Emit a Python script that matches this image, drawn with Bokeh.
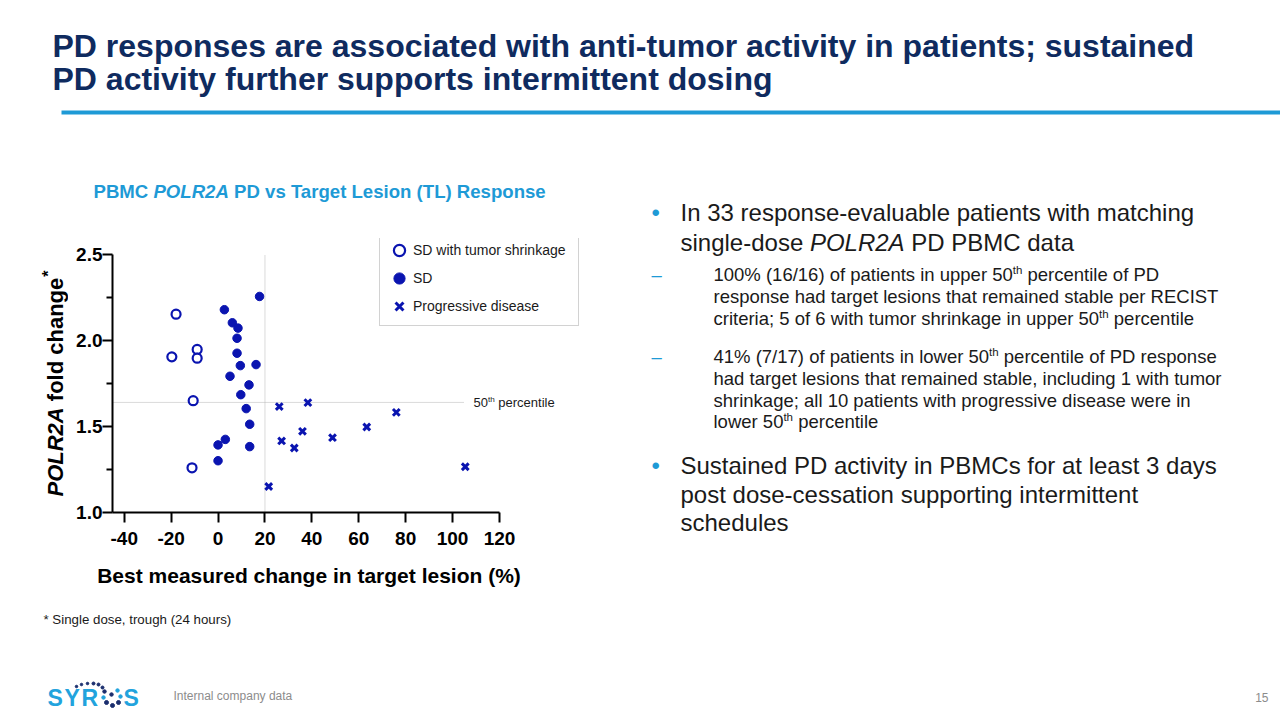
import math
from bokeh.plotting import figure
from bokeh.layouts import row, column
from bokeh.models import (Range1d, FixedTicker, PrintfTickFormatter, Label, Legend,
                          LegendItem, BoxAnnotation)
from bokeh.embed import file_html
from bokeh.resources import INLINE

# ---------------- data ----------------
shrink_x = [-17.9, -19.7, -8.9, -8.9, -10.6, -11.1]
shrink_y = [2.153, 1.905, 1.948, 1.897, 1.650, 1.260]
sd_x = [2.7, 17.7, 6.1, 8.5, 8.1, 8.1, 9.5, 16.2, 5.1, 13.2, 9.7, 12.0, 13.5, 3.1, 0.0, 13.5, 0.0]
sd_y = [2.179, 2.256, 2.103, 2.072, 2.013, 1.926, 1.854, 1.860, 1.792, 1.742, 1.685,
        1.604, 1.513, 1.425, 1.393, 1.383, 1.301]
pd_x = [21.6, 26.1, 27.1, 32.5, 36.0, 38.3, 48.8, 63.4, 76.0, 105.4]
pd_y = [1.151, 1.616, 1.416, 1.375, 1.472, 1.639, 1.435, 1.497, 1.582, 1.266]
legend_labels = ["SD with tumor shrinkage", "SD", "Progressive disease"]
x_ticks = [-40, -20, 0, 20, 40, 60, 80, 100, 120]
y_ticks = [1.0, 1.5, 2.0, 2.5]
y_minor_ticks = [1.25, 1.75, 2.25]
x_bounds = [-45, 120]
y_bounds = [1.0, 2.5]
percentile_50 = 1.64
percentile_line_x = [-45, 105]
ref_vline_x = 20

# ---------------- styles ----------------
BLUE = "#0A14B0"
TEAL = "#1E9AD6"
NAVY = "#0F2B5F"
TXT = "#1a1a1a"
GRAY = "#8c8c8c"
FONT = "Liberation Sans"

# Arial / Liberation Sans advance widths (per 1000 em)
REG = {' ': 278, '!': 278, '%': 889, '(': 333, ')': 333, '*': 389, ',': 278, '-': 333,
       '.': 278, '/': 278, ':': 278, ';': 278, '?': 556, '–': 556, '•': 350,
       'A': 667, 'B': 667, 'C': 722, 'D': 722, 'E': 667, 'F': 611, 'G': 778, 'H': 722,
       'I': 278, 'J': 500, 'K': 667, 'L': 556, 'M': 833, 'N': 722, 'O': 778, 'P': 667,
       'Q': 778, 'R': 722, 'S': 667, 'T': 611, 'U': 722, 'V': 667, 'W': 944, 'X': 667,
       'Y': 667, 'Z': 611, 'a': 556, 'b': 556, 'c': 500, 'd': 556, 'e': 556, 'f': 278,
       'g': 556, 'h': 556, 'i': 222, 'j': 222, 'k': 500, 'l': 222, 'm': 833, 'n': 556,
       'o': 556, 'p': 556, 'q': 556, 'r': 333, 's': 500, 't': 278, 'u': 556, 'v': 500,
       'w': 722, 'x': 500, 'y': 500, 'z': 500}
BOLD = dict(REG)
BOLD.update({'!': 333, ':': 333, ';': 333, 'A': 722, 'B': 722, 'J': 556, 'K': 722,
             'L': 611, 'b': 611, 'c': 556, 'd': 611, 'f': 333, 'g': 611, 'h': 611,
             'i': 278, 'j': 278, 'k': 556, 'l': 278, 'm': 889, 'n': 611, 'o': 611,
             'p': 611, 'q': 611, 'r': 389, 's': 556, 't': 333, 'u': 611, 'v': 556,
             'w': 778, 'x': 556, 'y': 556})


def tw(s, size, style="normal"):
    t = BOLD if "bold" in style else REG
    return sum(t.get(c, 556) for c in s) * size / 1000.0


def text_fig(x0, y0, x1, y1):
    """A figure whose frame is its whole canvas, in page-pixel coordinates."""
    f = figure(width=x1 - x0, height=y1 - y0, x_range=Range1d(x0, x1),
               y_range=Range1d(y1, y0), output_backend="svg", toolbar_location=None,
               x_axis_location=None, y_axis_location=None,
               min_border_left=0, min_border_right=0, min_border_top=0, min_border_bottom=0)
    f.grid.visible = False
    f.outline_line_color = None
    f.background_fill_color = "white"
    f.border_fill_color = "white"
    return f


def lab(f, text, X, Y, size, style="normal", color=TXT, align="left", angle=0.0):
    """Y is the vertical centre of the text line (page px)."""
    f.add_layout(Label(x=X, y=Y, text=text, text_font=FONT, text_font_size=f"{size}px",
                       text_font_style=style, text_color=color, text_align=align,
                       text_baseline="middle", angle=angle))


def runs(f, X, Y, parts, color=TXT):
    """parts: list of (text, size, style, raise_px); placed one after another."""
    x = X
    for text, size, style, rise in parts:
        lead = len(text) - len(text.lstrip(" "))
        trail = len(text) - len(text.rstrip(" "))
        core = text.strip(" ")
        x += tw(" " * lead, size, style)
        if core:
            lab(f, core, x, Y - rise, size, style, color)
        x += tw(core, size, style) + tw(" " * trail, size, style)


def sup(text, size):
    return (text, round(size * 0.62, 1), "normal", round(size * 0.25, 1))


# ---------------- layout geometry (page px) ----------------
PAGE_W, PAGE_H = 1280, 720
TOP_H = 130          # title band
MID_B = 640          # bottom of middle band
SPLIT_X = 582        # chart column | bullets column
L_W = 68             # y-label strip
C_TOP = 238          # top of chart canvas / frame
C_BOT = 560          # bottom of chart canvas
FRAME_L, FRAME_B = 112, 512
PX_X = 387 / 165.0   # px per x unit
PX_Y = 258 / 1.5     # px per y unit

# ---------------- title band ----------------
T = text_fig(0, 0, PAGE_W, TOP_H)
lab(T, "PD responses are associated with anti-tumor activity in patients; sustained",
    52, 45, 32, "bold", NAVY)
lab(T, "PD activity further supports intermittent dosing", 52, 78, 32, "bold", NAVY)
T.add_layout(BoxAnnotation(left=61, right=1280, top=110, bottom=114,
                           fill_color=TEAL, fill_alpha=1.0, line_color=None))

# ---------------- chart title band ----------------
CT = text_fig(0, TOP_H, SPLIT_X, C_TOP)
CS = 18.6
runs(CT, 93, 191, [("PBMC ", CS, "bold", 0), ("POLR2A", CS, "bold italic", 0),
                   (" PD vs Target Lesion (TL) Response", CS, "bold", 0)], color=TEAL)

# ---------------- y label strip ----------------
L = text_fig(0, C_TOP, L_W, C_BOT)
YL = 22
y0 = 496
w1 = tw("POLR2A", YL, "bold")
w2 = tw(" fold change", YL, "bold")
lab(L, "POLR2A", 55, y0, YL, "bold italic", "black", angle=math.pi / 2)
lab(L, "fold change", 55, y0 - w1 - tw(" ", YL, "bold"), YL, "bold", "black",
    angle=math.pi / 2)
lab(L, "*", 47.5, y0 - w1 - w2 - 1, 16, "bold", "black", angle=math.pi / 2)

# ---------------- chart ----------------
x_end = x_bounds[0] + (SPLIT_X - FRAME_L) / PX_X
y_end = y_bounds[1] + (FRAME_B - 258 - C_TOP) / PX_Y
C = figure(width=SPLIT_X - L_W, height=C_BOT - C_TOP,
           x_range=Range1d(x_bounds[0], x_end), y_range=Range1d(y_bounds[0], y_end),
           output_backend="svg", toolbar_location=None,
           min_border_left=FRAME_L - L_W, min_border_right=0,
           min_border_top=0, min_border_bottom=C_BOT - FRAME_B)
C.grid.visible = False
C.outline_line_color = None
C.background_fill_color = "white"
C.border_fill_color = "white"

for ax in (C.xaxis[0], C.yaxis[0]):
    ax.axis_line_width = 2
    ax.axis_line_color = "black"
    ax.major_tick_line_width = 2
    ax.major_tick_line_color = "black"
    ax.major_tick_out = 10
    ax.major_tick_in = 0
    ax.minor_tick_line_width = 2
    ax.minor_tick_line_color = "black"
    ax.minor_tick_out = 6
    ax.minor_tick_in = 0
    ax.major_label_text_font = FONT
    ax.major_label_text_font_style = "bold"
    ax.major_label_text_font_size = "19px"
    ax.major_label_text_color = "black"

C.xaxis[0].ticker = FixedTicker(ticks=x_ticks)
C.xaxis[0].formatter = PrintfTickFormatter(format="%d")
C.xaxis[0].minor_tick_line_color = None
C.xaxis[0].major_label_standoff = 9
C.xaxis[0].bounds = tuple(x_bounds)
C.yaxis[0].ticker = FixedTicker(ticks=y_ticks, minor_ticks=y_minor_ticks)
C.yaxis[0].formatter = PrintfTickFormatter(format="%.1f")
C.yaxis[0].major_label_standoff = 0
C.yaxis[0].bounds = tuple(y_bounds)

C.line(percentile_line_x, [percentile_50, percentile_50], line_color="#b4b4b4",
       line_width=1, line_dash="1 1")
C.line([ref_vline_x, ref_vline_x], y_bounds, line_color="#b4b4b4",
       line_width=1, line_dash="1 1")

r_shrink = C.scatter(shrink_x, shrink_y, marker="circle", size=9, fill_color="white",
                     line_color=BLUE, line_width=2.2)
r_sd = C.scatter(sd_x, sd_y, marker="circle", size=8.5, fill_color=BLUE, line_color=BLUE)
r_pd = C.scatter(pd_x, pd_y, marker="x", size=9.5, line_color=BLUE, line_width=3)

legend = Legend(items=[LegendItem(label=legend_labels[0], renderers=[r_shrink]),
                       LegendItem(label=legend_labels[1], renderers=[r_sd]),
                       LegendItem(label=legend_labels[2], renderers=[r_pd])],
                location=(379 - FRAME_L, FRAME_B - 326), orientation="vertical",
                border_line_color="#a6a6a6", border_line_width=1.5,
                background_fill_color="white", background_fill_alpha=1.0,
                label_text_font=FONT, label_text_font_size="14px", label_text_color=TXT,
                glyph_width=28, glyph_height=28, label_height=28, label_standoff=0,
                label_width=160, spacing=-4, padding=5, margin=0)
C.add_layout(legend)

PS = 13
xx = 473 - FRAME_L
mid_y = FRAME_B - 402
for text, size, style, rise in [("50", PS, "normal", 0), sup("th", PS),
                                ("percentile", PS, "normal", 0)]:
    if text == "percentile":
        xx += tw(" ", PS)
    C.add_layout(Label(x=xx, y=mid_y + rise, x_units="screen", y_units="screen",
                       text=text, text_font=FONT, text_font_size=f"{size}px",
                       text_color=TXT, text_baseline="middle"))
    xx += tw(text, size, style)

# ---------------- below chart ----------------
CB = text_fig(0, C_BOT, SPLIT_X, MID_B)
lab(CB, "Best measured change in target lesion (%)", 308.5, 575, 21, "bold", "black",
    align="center")
lab(CB, "* Single dose, trough (24 hours)", 43, 619, 13.3, "normal", TXT)

# ---------------- bullets ----------------
R = text_fig(SPLIT_X, TOP_H, PAGE_W, MID_B)
B1 = 24
S1 = 18.5
lab(R, "•", 651, 212, B1, "normal", TEAL)
lab(R, "In 33 response-evaluable patients with matching", 680, 212, B1)
runs(R, 680, 242, [("single-dose ", B1, "normal", 0), ("POLR2A", B1, "italic", 0),
                   (" PD PBMC data", B1, "normal", 0)])

lab(R, "–", 651, 274, S1, "normal", TEAL)
runs(R, 713, 274, [("100% (16/16) of patients in upper 50", S1, "normal", 0), sup("th", S1),
                   (" percentile of PD", S1, "normal", 0)])
lab(R, "response had target lesions that remained stable per RECIST", 713, 296, S1)
runs(R, 713, 318, [("criteria; 5 of 6 with tumor shrinkage in upper 50", S1, "normal", 0),
                   sup("th", S1), (" percentile", S1, "normal", 0)])

lab(R, "–", 651, 356, S1, "normal", TEAL)
runs(R, 713, 356, [("41% (7/17) of patients in lower 50", S1, "normal", 0), sup("th", S1),
                   (" percentile of PD response", S1, "normal", 0)])
lab(R, "had target lesions that remained stable, including 1 with tumor", 713, 378, S1)
lab(R, "shrinkage; all 10 patients with progressive disease were in", 713, 400, S1)
runs(R, 713, 421, [("lower 50", S1, "normal", 0), sup("th", S1),
                   (" percentile", S1, "normal", 0)])

lab(R, "•", 651, 465, B1, "normal", TEAL)
lab(R, "Sustained PD activity in PBMCs for at least 3 days", 680, 465, B1)
lab(R, "post dose-cessation supporting intermittent", 680, 494, B1)
lab(R, "schedules", 680, 522, B1)

# ---------------- footer ----------------
F = text_fig(0, MID_B, PAGE_W, PAGE_H)
LOGO_BLUE = "#22A3DD"
LOGO_NAVY = "#1B2E6E"
for ch, X in (("S", 47), ("Y", 64), ("R", 81), ("S", 123)):
    lab(F, ch, X, 697, 23, "bold", LOGO_BLUE)
logo_dot_x = [76, 81, 87, 93, 98, 102, 104, 103, 106, 112, 118, 120, 117, 111]
logo_dot_y = [686, 684, 683, 683, 684, 687, 691, 697, 702, 705, 702, 696, 690, 694]
logo_dot_s = [2.5, 2.5, 2.5, 3, 3, 3, 3.5, 3.5, 4, 4, 4, 3.5, 3.5, 3.5]
logo_dot_c = [LOGO_NAVY] * 6 + [LOGO_NAVY, LOGO_BLUE, LOGO_NAVY, LOGO_NAVY, LOGO_NAVY,
                                LOGO_BLUE, LOGO_BLUE, LOGO_NAVY]
F.scatter(logo_dot_x, logo_dot_y, size=logo_dot_s, color=logo_dot_c, marker="circle")
lab(F, "Internal company data", 173, 695, 12, "normal", GRAY)
lab(F, "15", 1268, 697, 12, "normal", GRAY, align="right")

page = column(T, row(column(CT, row(L, column(C)), CB), R), F)
open("out.html", "w").write(file_html(page, INLINE))
